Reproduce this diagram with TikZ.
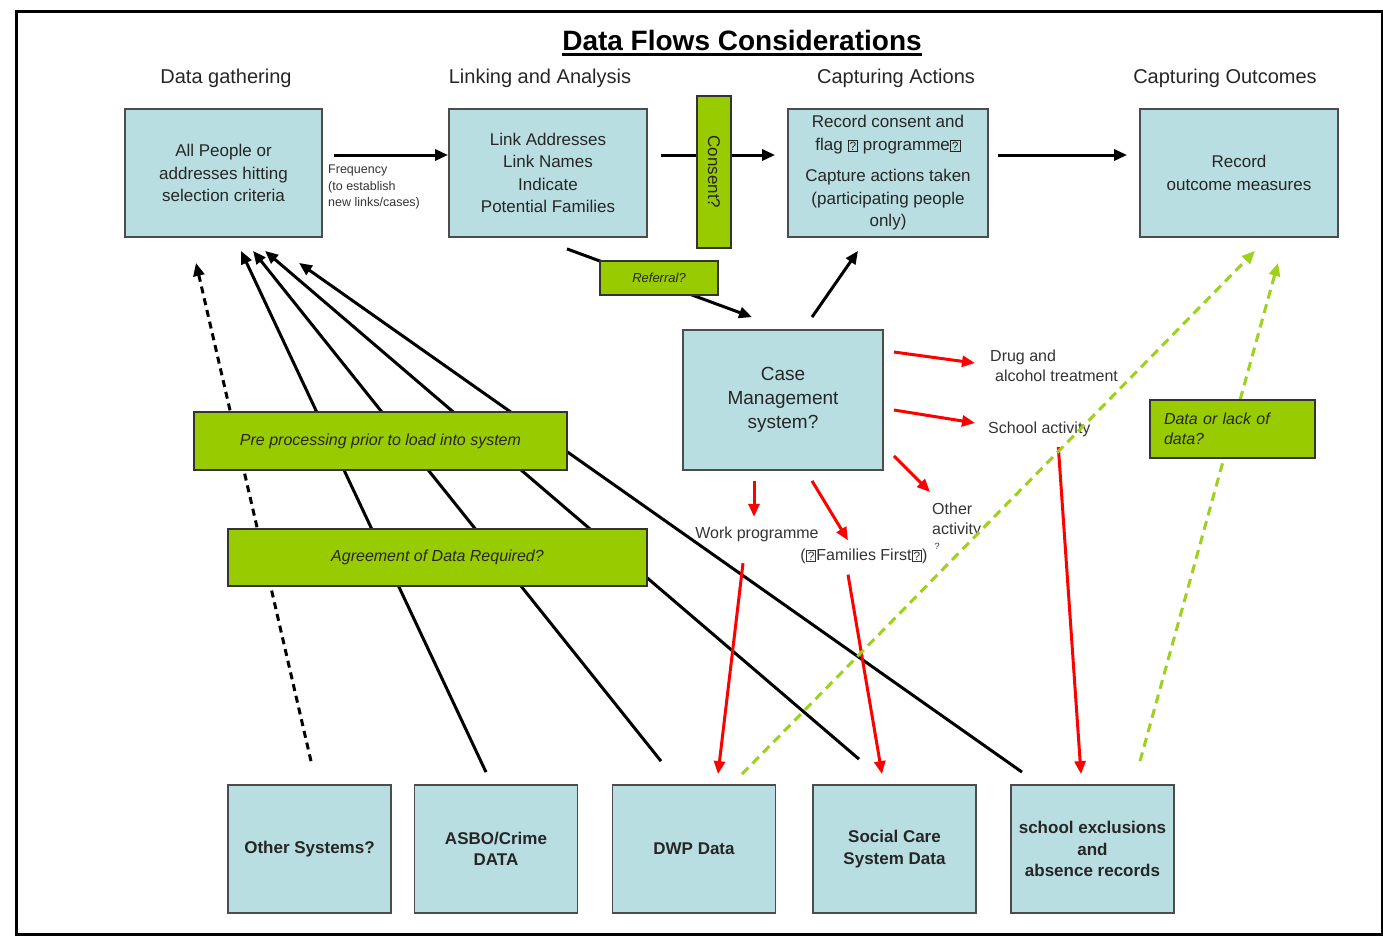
\documentclass[tikz,border=0pt]{standalone}
\usepackage{fontspec}
\setmainfont{Liberation Sans}
\usepackage{tikz}
\usetikzlibrary{arrows.meta}
\definecolor{boxblue}{RGB}{185,222,226}
\definecolor{boxgreen}{RGB}{153,204,0}
\definecolor{dashgreen}{RGB}{158,208,28}
\newcommand{\qbox}{{\setlength{\fboxsep}{1pt}\setlength{\fboxrule}{1pt}\fbox{\fontsize{12}{12}\selectfont ?}}}

\begin{document}
\begin{tikzpicture}[x=1pt, y=-1pt,
  box/.style={draw=black!70, line width=1.8pt, fill=boxblue, align=center, inner sep=1pt, text=black!85, font=\fontsize{17}{22.5}\selectfont},
  src/.style={box, minimum width=163pt, minimum height=128pt, font=\bfseries\fontsize{17}{21.5}\selectfont},
  note/.style={draw=black!80, line width=1.8pt, fill=boxgreen, text=black!85, font=\itshape\fontsize{16}{20}\selectfont},
  lbl/.style={inner sep=0pt, text=black!80, font=\fontsize{16}{20}\selectfont},
  head/.style={inner sep=0pt, text=black!85, font=\fontsize{20}{24}\selectfont},
  flow/.style={line width=3pt, -{Triangle[length=13pt,width=11pt]}},
  redflow/.style={flow, red},
  greenflow/.style={flow, dashgreen, dash pattern=on 9pt off 6pt}]
\useasboundingbox (0,0) rectangle (1383,937);
\draw[line width=3pt] (16,11) rectangle (1382,934);

%\tikzstyle{place}=[circle,draw,thick]
\node[inner sep=0pt, font=\bfseries\fontsize{28}{30}\selectfont] (title) at (742,40) {Data Flows Considerations};
\draw[line width=2.5pt] ([yshift=-4pt]title.south west) -- ([yshift=-4pt]title.south east);
\node[head] (h1) at (226,78) {Data gathering};
\node[head] (h2) at (540,78) {Linking and Analysis};
\node[head] (h3) at (896,78) {Capturing Actions};
\node[head] (h4) at (1225,78) {Capturing Outcomes};

\begin{scope}
    \node[box, minimum width=197pt, minimum height=128pt] (gather) at (223.5,173) {All People or\\addresses hitting\\selection criteria};
    \node[box, minimum width=198pt, minimum height=128pt] (link) at (548,173) {Link Addresses\\Link Names\\Indicate\\Potential Families};
    \node[box, minimum width=200pt, minimum height=128pt] (actions) at (888,173) {Record consent and\\flag \qbox{} programme\qbox\\[9pt]Capture actions taken\\(participating people\\only)};
    \node[box, minimum width=198pt, minimum height=128pt] (outcome) at (1239,173) {Record\\outcome measures};
    \node[box, minimum width=200pt, minimum height=140pt, font=\fontsize{19}{24}\selectfont] (cms) at (783,400) {Case\\Management\\system?};
\end{scope}

\node[src] (other) at (309.5,849) {Other Systems?};
\node[src] (asbo) at (496,849) {ASBO/Crime\\DATA};
\node[src] (dwp) at (694,849) {DWP Data};
\node[src] (social) at (894.5,849) {Social Care\\System Data};
\node[src] (school) at (1092.5,849) {school exclusions\\and\\absence records};

\node[lbl, anchor=north west, align=left, font=\fontsize{12.5}{16.5}\selectfont] (freq) at (328,165) {Frequency\\(to establish\\new links/cases)};
\node[lbl, anchor=north west, align=left] (drug) at (990,350) {Drug and\\\hspace*{5pt}alcohol treatment};
\node[lbl, anchor=west] (schact) at (988,429) {School activity};
\node[lbl, anchor=north west, align=left] (otheract) at (932,503) {Other\\activity\\[-5pt]{\fontsize{9}{9}\selectfont\ ?}};
\node[lbl] (work) at (757,534) {Work programme};
\node[lbl] (famfirst) at (864,556) {(\qbox{}Families First\qbox)};

\path[flow] ([xshift=11pt,yshift=18pt]gather.east) edge ([yshift=18pt]link.west);
\path[flow] ([xshift=13pt,yshift=18pt]link.east) edge ([xshift=-12pt,yshift=18pt]actions.west);
\path[flow] ([xshift=9pt,yshift=18pt]actions.east) edge ([xshift=-12pt,yshift=18pt]outcome.west);
\path[flow] ([xshift=19pt,yshift=-11pt]link.south) edge ([xshift=-31pt,yshift=12pt]cms.north);
\path[flow] ([xshift=29pt,yshift=12pt]cms.north) edge ([xshift=-30pt,yshift=-13pt]actions.south);

\path[flow, dash pattern=on 7pt off 5pt] ([xshift=1.5pt,yshift=23pt]other.north) edge ([xshift=-27.5pt,yshift=-25pt]gather.south);
\path[flow] ([xshift=-10pt,yshift=12pt]asbo.north) edge ([xshift=17.5pt,yshift=-13pt]gather.south);
\path[flow] ([xshift=-33pt,yshift=23pt]dwp.north) edge ([xshift=29.5pt,yshift=-13pt]gather.south);
\path[flow] ([xshift=-35.5pt,yshift=25pt]social.north) edge ([xshift=41.5pt,yshift=-13pt]gather.south);
\path[flow] ([xshift=-70.5pt,yshift=12pt]school.north) edge ([xshift=75.5pt,yshift=-25pt]gather.south);

\path[redflow] ([xshift=10pt,yshift=48pt]cms.east) edge ([xshift=-15pt,yshift=3pt]drug.west);
\path[redflow] ([xshift=10pt,yshift=-10pt]cms.east) edge ([xshift=-13pt,yshift=6pt]schact.west);
\path[redflow] ([xshift=10pt,yshift=-56pt]cms.east) edge ([xshift=-2pt,yshift=11pt]otheract.north west);
\path[redflow] ([xshift=-29pt,yshift=-10pt]cms.south) edge ([xshift=-3pt,yshift=9.5pt]work.north);
\path[redflow] ([xshift=29pt,yshift=-10pt]cms.south) edge ([xshift=-16pt,yshift=8pt]famfirst.north);
\path[redflow] ([xshift=-14pt,yshift=-21.5pt]work.south) edge ([xshift=24pt,yshift=10pt]dwp.north);
\path[redflow] ([xshift=-16pt,yshift=-11pt]famfirst.south) edge ([xshift=-12.5pt,yshift=10pt]social.north);
\path[redflow] ([xshift=19pt,yshift=-10.5pt]schact.south) edge ([xshift=-11.5pt,yshift=10pt]school.north);

\path[greenflow] ([xshift=48pt,yshift=10pt]dwp.north) edge ([xshift=16pt,yshift=-13pt]outcome.south);
\path[greenflow] ([xshift=47.5pt,yshift=23pt]school.north) edge ([xshift=39pt,yshift=-25pt]outcome.south);

\node[note, rotate=-90, minimum width=152pt, minimum height=34pt, font=\fontsize{17}{20}\selectfont] (consent) at (714,172) {Consent?};
\node[note, minimum width=118pt, minimum height=34pt, font=\itshape\fontsize{13}{16}\selectfont] (referral) at (659,278) {Referral?};
\node[note, minimum width=373pt, minimum height=58pt] (preproc) at (380.5,441) {Pre processing prior to load into system};
\node[note, minimum width=419pt, minimum height=57pt] (agree) at (437.5,557.5) {Agreement of Data Required?};
\node[note, text width=137pt, inner xsep=14pt, minimum height=58pt, align=left] (lack) at (1232.5,429) {Data or lack of\\data?};
\end{tikzpicture}
\end{document}
